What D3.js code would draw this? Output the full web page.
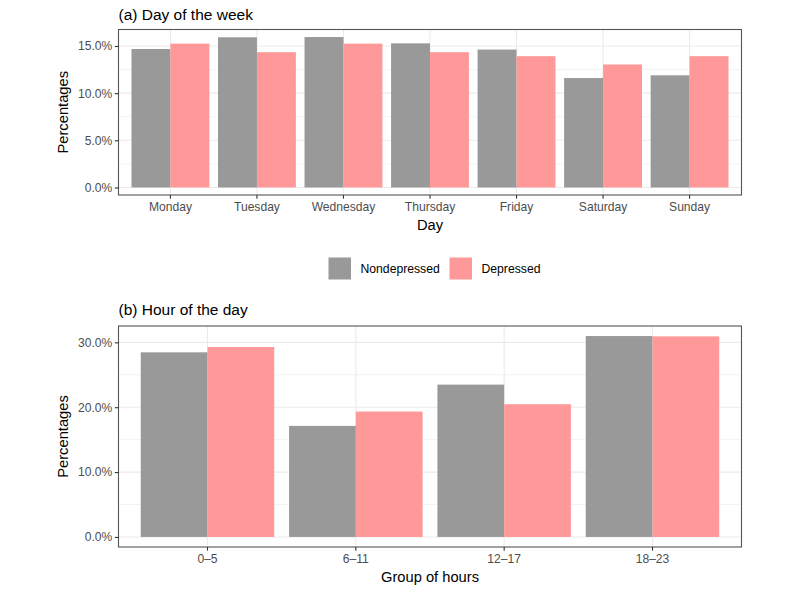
<!DOCTYPE html>
<html>
<head>
<meta charset="utf-8">
<script src="https://cdn.jsdelivr.net/npm/d3@7"></script>
<style>
  html, body { margin: 0; padding: 0; background: #fff; }
  svg { display: block; font-family: "Liberation Sans", Arial, Helvetica, sans-serif; }
</style>
</head>
<body>
<svg id="chart" width="800" height="593"></svg>
<script>
// ---- Data ----
const groups = ["Nondepressed", "Depressed"];
const groupColors = ["#999999", "#FF9999"];

const days = ["Monday", "Tuesday", "Wednesday", "Thursday", "Friday", "Saturday", "Sunday"];
const nondepressedByDay = [14.68, 15.92, 15.95, 15.28, 14.62, 11.60, 11.89];
const depressedByDay   = [15.25, 14.34, 15.25, 14.34, 13.92, 13.04, 13.92];
const dayTicks = [0, 5, 10, 15];

const hourGroups = ["0–5", "6–11", "12–17", "18–23"];
const nondepressedByHour = [28.46, 17.12, 23.48, 30.97];
const depressedByHour   = [29.28, 19.33, 20.46, 30.92];
const hourTicks = [0, 10, 20, 30];

// ---- Drawing ----
const svg = d3.select("#chart");
const color = d3.scaleOrdinal().domain(groups).range(groupColors);
const fmt = d => d3.format(".1f")(d) + "%";
const tickFont = "12.1px";

function panel(opts) {
  const { x0, x1, y0, y1, cats, seriesA, seriesB, ticks, title, xTitle, titleY, xTitleY } = opts;
  const g = svg.append("g");
  const maxV = d3.max(seriesA.concat(seriesB));
  const y = d3.scaleLinear().domain([-0.05 * maxV, 1.05 * maxV]).range([y1, y0]);
  const x = d3.scaleBand().domain(cats).range([x0, x1]).paddingInner(0.1).paddingOuter(0.15);
  const xs = d3.scaleBand().domain(groups).range([0, x.bandwidth()]);

  // minor gridlines
  const minor = [];
  const step = ticks[1] - ticks[0];
  for (let i = 0; i < ticks.length; i++) {
    const m = ticks[i] + step / 2;
    if (y(m) > y0) minor.push(m);
  }
  g.append("g").selectAll("line").data(minor).join("line")
    .attr("x1", x0).attr("x2", x1)
    .attr("y1", d => y(d)).attr("y2", d => y(d))
    .attr("stroke", "#EBEBEB").attr("stroke-width", 0.6);
  // major gridlines
  g.append("g").selectAll("line").data(ticks).join("line")
    .attr("x1", x0).attr("x2", x1)
    .attr("y1", d => y(d)).attr("y2", d => y(d))
    .attr("stroke", "#EBEBEB").attr("stroke-width", 1.1);
  g.append("g").selectAll("line").data(cats).join("line")
    .attr("x1", d => x(d) + x.bandwidth() / 2).attr("x2", d => x(d) + x.bandwidth() / 2)
    .attr("y1", y0).attr("y2", y1)
    .attr("stroke", "#EBEBEB").attr("stroke-width", 1.1);

  // bars
  const rows = cats.map((c, i) => ({ cat: c, vals: [seriesA[i], seriesB[i]] }));
  const cg = g.append("g").selectAll("g").data(rows).join("g")
    .attr("transform", d => `translate(${x(d.cat)},0)`);
  cg.selectAll("rect").data(d => d.vals.map((v, j) => ({ key: groups[j], v })))
    .join("rect")
    .attr("x", d => xs(d.key))
    .attr("width", xs.bandwidth())
    .attr("y", d => y(d.v))
    .attr("height", d => y(0) - y(d.v))
    .attr("fill", d => color(d.key));

  // border
  g.append("rect")
    .attr("x", x0).attr("y", y0).attr("width", x1 - x0).attr("height", y1 - y0)
    .attr("fill", "none").attr("stroke", "#555555").attr("stroke-width", 1.1);

  // y axis
  const ya = d3.axisLeft(y).tickValues(ticks).tickFormat(fmt).tickSize(3.7).tickPadding(2.5);
  const yg = g.append("g").attr("transform", `translate(${x0},0)`).call(ya);
  yg.select(".domain").remove();
  yg.selectAll(".tick line").attr("stroke", "#333333").attr("stroke-width", 1.1);
  yg.selectAll(".tick text").attr("fill", "#4D4D4D").style("font-size", tickFont)
    .style("font-family", "'Liberation Sans', Arial, sans-serif");

  // x axis
  const xa = d3.axisBottom(x).tickSize(3.7).tickPadding(4);
  const xg = g.append("g").attr("transform", `translate(0,${y1})`).call(xa);
  xg.select(".domain").remove();
  xg.selectAll(".tick line").attr("stroke", "#333333").attr("stroke-width", 1.1);
  xg.selectAll(".tick text").attr("fill", "#4D4D4D").style("font-size", tickFont)
    .style("font-family", "'Liberation Sans', Arial, sans-serif");

  // titles
  g.append("text").attr("x", x0).attr("y", titleY).text(title)
    .attr("fill", "#000").style("font-size", "15.5px");
  g.append("text").attr("x", (x0 + x1) / 2).attr("y", xTitleY).attr("text-anchor", "middle")
    .text(xTitle).attr("fill", "#000").style("font-size", "14.7px");
  g.append("text")
    .attr("transform", `translate(68,${(y0 + y1) / 2}) rotate(-90)`)
    .attr("text-anchor", "middle").text("Percentages")
    .attr("fill", "#000").style("font-size", "14.7px");
}

panel({
  x0: 118.5, x1: 741.5, y0: 29.5, y1: 195,
  cats: days, seriesA: nondepressedByDay, seriesB: depressedByDay, ticks: dayTicks,
  title: "(a) Day of the week", xTitle: "Day", titleY: 19.5, xTitleY: 230
});

panel({
  x0: 118.5, x1: 741.5, y0: 326, y1: 547,
  cats: hourGroups, seriesA: nondepressedByHour, seriesB: depressedByHour, ticks: hourTicks,
  title: "(b) Hour of the day", xTitle: "Group of hours", titleY: 315, xTitleY: 582
});

// legend
const legend = svg.append("g");
const legendItems = [
  { key: groups[0], x: 328.5, tx: 360.5 },
  { key: groups[1], x: 449.5, tx: 481.5 }
];
legendItems.forEach(it => {
  legend.append("rect").attr("x", it.x).attr("y", 257.5).attr("width", 22.5).attr("height", 22)
    .attr("fill", color(it.key));
  legend.append("text").attr("x", it.tx).attr("y", 273).text(it.key)
    .attr("fill", "#000").style("font-size", "12.2px");
});
</script>
</body>
</html>
